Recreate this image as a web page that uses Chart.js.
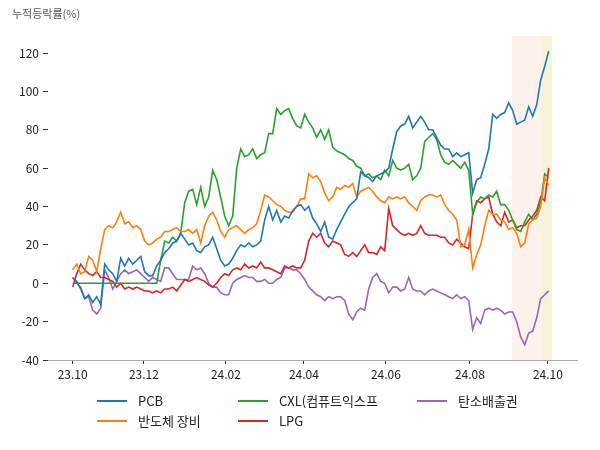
<!DOCTYPE html>
<html>
<head>
<meta charset="utf-8">
<script src="https://cdn.jsdelivr.net/npm/chart.js@4.4.1/dist/chart.umd.min.js"></script>
<style>
  html, body { margin: 0; padding: 0; background: #fff; }
  #wrap { width: 600px; height: 450px; }
</style>
</head>
<body>
<div id="wrap"><canvas id="trendChart" width="600" height="450"></canvas></div>
<script>
/* cumulative return (%) per theme, one value per ~2 trading days */

const seriesNames = ['PCB', '반도체 장비', 'CXL(컴퓨트익스프', 'LPG', '탄소배출권'];
const seriesColors = ['#1f77b4', '#ff7f0e', '#2ca02c', '#d62728', '#9467bd'];

const pcb = [3,1,-3,-8,-6,-10,-7,-11,10,7,
  5,1,13,9,13,10,12,14,6,4,
  4,9,12,16,18,21,22,26,23,20,
  21,17,16,19,20,24,18,12,9,10,
  13,17,20,19,21,19,20,22,33,40,
  33,38,32,35,34,38,40,41,38,40,
  34,31,27,32,24,23,28,32,36,40,
  42,44,58,56,55,53,56,57,58,60,
  70,79,82,83,87,81,84,87,84,80,
  80,76,72,70,70,66,68,66,67,68,
  47,54,55,62,70,88,86,88,89,94,
  90,83,84,85,92,87,93,106,113,121];

const semi = [7,10,5,6,14,12,6,18,28,30,
  29,32,37,31,32,29,30,28,22,20,
  21,23,24,27,27,28,29,27,27,28,
  26,28,21,30,35,37,33,27,24,28,
  29,30,28,26,28,29,31,38,46,45,
  43,41,40,38,37,37,40,44,44,57,
  55,56,53,47,43,45,50,49,51,50,
  52,45,48,49,50,48,45,43,42,45,
  44,45,44,45,42,40,38,43,45,46,
  46,45,46,41,38,36,33,19,20,28,
  8,15,20,30,38,36,36,33,32,28,
  29,26,19,21,31,33,34,40,55,51];

const cxl = [0,0,0,0,0,0,0,0,0,0,
  0,0,0,0,0,0,0,0,0,0,
  0,0,12,22,21,24,22,26,42,48,
  49,41,50,40,45,59,54,45,35,30,
  35,60,70,66,67,70,65,67,68,78,
  78,91,88,90,91,86,82,81,88,84,
  81,76,80,75,80,71,69,68,67,65,
  64,61,60,56,57,55,56,54,59,56,
  64,60,59,60,62,54,56,60,74,76,
  78,75,67,63,62,64,62,60,63,59,
  36,42,45,44,46,45,48,41,41,38,
  33,28,27,32,36,33,36,42,57,55];

const lpg = [-2,5,10,7,5,4,6,3,3,2,
  1,-2,0,-3,-2,-3,-2,-3,-4,-4,
  -5,-4,-5,-3,-3,-2,-4,-1,2,1,
  2,3,2,1,-1,-2,0,3,5,4,
  7,8,7,10,8,9,8,11,8,8,
  7,6,5,9,8,9,8,8,12,22,
  26,24,26,21,19,22,21,20,15,14,
  16,14,17,20,16,16,15,19,17,39,
  30,28,26,25,26,25,26,30,26,25,
  25,25,24,24,21,20,23,21,19,18,
  36,43,42,44,45,36,32,30,37,32,
  33,29,30,30,33,35,38,45,43,60];

const carbon = [3,0,-2,-8,-7,-14,-16,-13,7,3,
  -3,1,5,7,5,6,7,5,3,1,
  3,2,1,8,8,5,2,2,2,2,
  9,7,8,5,0,-2,-2,-5,-6,-6,
  0,2,3,4,3,3,1,1,2,0,
  0,2,3,8,8,7,7,5,2,-2,
  -4,-6,-7,-9,-7,-8,-7,-7,-9,-16,
  -19,-15,-13,-14,-3,3,5,1,0,-5,
  -2,-2,-4,-3,3,-3,-4,-4,-6,-4,
  -3,-4,-5,-6,-7,-8,-6,-8,-7,-9,
  -24,-18,-21,-14,-13,-14,-13,-14,-16,-15,
  -15,-20,-28,-32,-26,-25,-18,-8,-6,-4];

// x tick labels and where they fall on the point index
const xTickLabels = ['23.10', '23.12', '24.02', '24.04', '24.06', '24.08', '24.10'];
const xTickPos = [0, 17.8, 38.3, 57.8, 78.3, 99.3, 118.8];
const yTicks = [-40, -20, 0, 20, 40, 60, 80, 100, 120];

// shaded periods at the end (index ranges)
const shadeRanges = [[109.8, 117.3], [117.3, 119.8]];
const shadeColors = ['#fcf2eb', '#f7f3da'];

const allSeries = [pcb, semi, cxl, lpg, carbon];

const datasets = allSeries.map((vals, k) => ({
  label: seriesNames[k],
  data: vals.map((v, i) => ({ x: i, y: v })),
  borderColor: seriesColors[k],
  backgroundColor: seriesColors[k],
  borderWidth: 1.6,
  pointRadius: 0,
  tension: 0
}));

const FONT = '"Noto Sans CJK KR", "Noto Sans", sans-serif';

/* shading behind the lines */
const shadePlugin = {
  id: 'shade',
  beforeDatasetsDraw(chart) {
    const { ctx, chartArea, scales } = chart;
    ctx.save();
    shadeRanges.forEach((r, k) => {
      const x1 = scales.x.getPixelForValue(r[0]);
      const x2 = scales.x.getPixelForValue(r[1]);
      ctx.fillStyle = shadeColors[k];
      ctx.fillRect(x1, chartArea.top, x2 - x1, chartArea.bottom - chartArea.top);
    });
    ctx.restore();
  }
};

/* title at top-left + 3 column legend under the plot */
const extrasPlugin = {
  id: 'extras',
  afterDraw(chart) {
    const ctx = chart.ctx;
    ctx.save();
    ctx.fillStyle = '#555';
    ctx.font = '11px ' + FONT;
    ctx.textBaseline = 'middle';
    ctx.textAlign = 'left';
    ctx.fillText('누적등락률(%)', 12, 14);

    // column-major like matplotlib ncol=3
    const cols = [97, 238, 417];
    const rows = [401, 421];
    ctx.font = '13px ' + FONT;
    seriesNames.forEach((name, k) => {
      const c = Math.floor(k / 2), r = k % 2;
      const x = cols[c], y = rows[r];
      ctx.strokeStyle = seriesColors[k];
      ctx.lineWidth = 2;
      ctx.beginPath();
      ctx.moveTo(x, y);
      ctx.lineTo(x + 30, y);
      ctx.stroke();
      ctx.fillStyle = '#222';
      ctx.fillText(name, x + 41, y);
    });
    ctx.restore();
  }
};

new Chart(document.getElementById('trendChart'), {
  type: 'line',
  data: { datasets: datasets },
  plugins: [shadePlugin, extrasPlugin],
  options: {
    responsive: false,
    animation: false,
    layout: { padding: { top: 36, left: 0, right: 23, bottom: 60 } },
    plugins: {
      legend: { display: false },
      tooltip: { enabled: false }
    },
    scales: {
      x: {
        type: 'linear',
        min: -6.175,
        max: 126.075,
        afterBuildTicks(scale) {
          scale.ticks = xTickPos.map(v => ({ value: v }));
        },
        afterFit(scale) { scale.height = 30; },
        grid: { display: true, drawOnChartArea: false, drawTicks: true, tickLength: 4, color: '#333' },
        border: { display: true, color: '#aaa', width: 1 },
        ticks: {
          autoSkip: false,
          maxRotation: 0,
          padding: 3,
          color: '#222',
          font: { family: FONT, size: 12 },
          callback: (v, i) => xTickLabels[i]
        }
      },
      y: {
        min: -40,
        max: 128.9,
        afterBuildTicks(scale) {
          scale.ticks = yTicks.map(v => ({ value: v }));
        },
        afterFit(scale) { scale.width = 48; },
        grid: { display: true, drawOnChartArea: false, drawTicks: true, tickLength: 5, color: '#333' },
        border: { display: false },
        ticks: {
          padding: 4,
          color: '#222',
          font: { family: FONT, size: 12 }
        }
      }
    }
  }
});
</script>
</body>
</html>
